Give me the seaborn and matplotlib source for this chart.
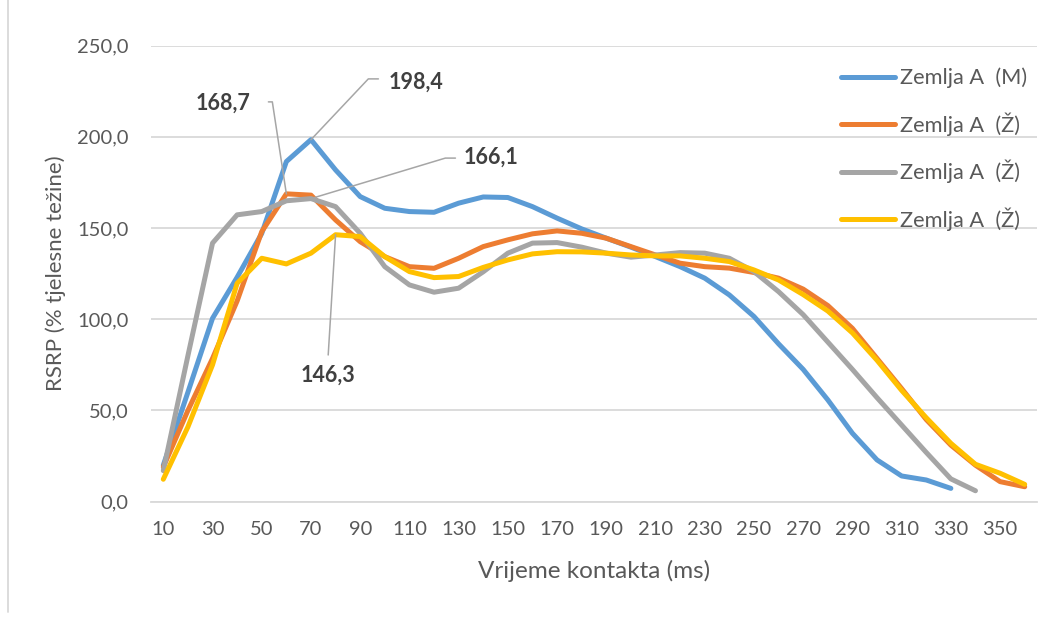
import numpy as np
import pandas as pd
import matplotlib
matplotlib.use("Agg")
import matplotlib.pyplot as plt
import seaborn as sns
from matplotlib.lines import Line2D

# ---------------- data ----------------
time_ms = list(range(10, 370, 10))  # 10 .. 360

blue_m = [20, 60, 100.5, 123, 147, 186.4, 198.4, 181.8, 167.2, 160.8, 159.0, 158.6,
          163.6, 167.0, 166.7, 161.7, 155.4, 149.5, 144.4, 139.5, 134.3, 128.8, 122.5,
          113.3, 101.5, 86.5, 72.5, 55.8, 37.5, 22.9, 14.1, 11.9, 7.3]
orange_z = [19, 50, 78.5, 110, 148, 168.7, 168.0, 154.4, 142.5, 134.3, 128.8, 127.9,
            133.4, 139.8, 143.5, 146.8, 148.4, 147.1, 144.4, 139.8, 135.2, 130.7, 128.8,
            128.0, 125.6, 122.5, 116.5, 107.5, 95.0, 78.5, 62.0, 45.0, 31.0, 20.0, 11.0, 8.2]
gray_z = [17, 80, 141.7, 157.2, 159.0, 164.9, 166.1, 161.7, 147.1, 128.8, 118.8, 114.8,
          117.0, 126.0, 136.2, 141.7, 142.0, 139.5, 136.2, 134.0, 135.2, 136.5, 136.2,
          133.4, 126.1, 115.1, 102.5, 87.5, 72.5, 57.0, 42.0, 27.0, 12.5, 6.0]
yellow_z = [12.3, 41, 75, 119.7, 133.4, 130.3, 136.2, 146.3, 145.3, 134.3, 126.1, 122.8,
            123.4, 128.4, 132.5, 135.8, 137.0, 136.9, 136.2, 135.2, 134.7, 134.7, 133.4,
            131.6, 127.0, 121.5, 113.5, 104.5, 92.5, 77.5, 61.0, 46.0, 32.0, 20.5, 15.6, 9.5]

series_labels = ["Zemlja A  (M)", "Zemlja A  (Ž)", "Zemlja A  (Ž)", "Zemlja A  (Ž)"]
series_values = [blue_m, orange_z, gray_z, yellow_z]
series_colors = ["#5B9BD5", "#ED7D31", "#A5A5A5", "#FFC000"]

y_ticks = [0, 50, 100, 150, 200, 250]
x_ticks = list(range(10, 360, 20))

# ---------------- style ----------------
sns.set_theme(style="white")
FONT = ["Lato", "DejaVu Sans"]
plt.rcParams["font.family"] = FONT
TICK_C = "#595959"
TXT_C = "#404040"

fig = plt.figure(figsize=(10.44, 6.19), dpi=100)
W, H = 1044, 619
left_px, right_px, top_px, bot_px = 151, 1037, 45.5, 501.7
ax = fig.add_axes([left_px / W, 1 - bot_px / H, (right_px - left_px) / W, (bot_px - top_px) / H])

for lab, vals, col in zip(series_labels, series_values, series_colors):
    df = pd.DataFrame({"t": time_ms[:len(vals)], "v": vals})
    sns.lineplot(data=df, x="t", y="v", ax=ax, color=col, linewidth=3.6,
                 label=lab, solid_capstyle="round", solid_joinstyle="round")

ax.set_xlim(5, 365)
ax.set_ylim(0, 250)
ax.set_yticks(y_ticks)
ax.set_yticklabels([f"{v:.1f}".replace(".", ",") for v in y_ticks])
ax.set_xticks(x_ticks)
ax.set_xticklabels([str(v) for v in x_ticks])
ax.tick_params(axis="both", length=0, labelsize=14.5, labelcolor=TICK_C)
ax.tick_params(axis="y", pad=16)
ax.tick_params(axis="x", pad=14)
ax.grid(axis="y", color="#D9D9D9", linewidth=1.3)
ax.grid(axis="x", visible=False)
ax.set_axisbelow(True)
for s in ["left", "right", "top"]:
    ax.spines[s].set_visible(False)
ax.spines["bottom"].set_color("#D9D9D9")
ax.spines["bottom"].set_linewidth(1.3)

ax.set_xlabel("Vrijeme kontakta (ms)", fontsize=17.5, color=TICK_C, labelpad=16)
ax.set_ylabel("RSRP (% tjelesne težine)", fontsize=16, color=TICK_C, labelpad=8)

# ---------------- data labels with leader lines ----------------
lead_c = "#A6A6A6"
def leader(px, py, pts, text, tx, ty, ha):
    xs = [px] + [p[0] for p in pts]
    ys = [py] + [p[1] for p in pts]
    ax.plot(xs, ys, color=lead_c, linewidth=1.1, zorder=5)
    ax.text(tx, ty, text, ha=ha, va="center", fontsize=15.5, fontweight="bold",
            color=TXT_C, zorder=6)

i = blue_m.index(max(blue_m))
leader(time_ms[i], blue_m[i], [(93.3, 231.7), (97.4, 231.7)], "198,4", 101.5, 230, "left")
i = orange_z.index(168.7)
leader(time_ms[i], orange_z[i], [(54.3, 219.1), (52.7, 219.1)], "168,7", 45.4, 218.6, "right")
i = gray_z.index(166.1)
leader(time_ms[i], gray_z[i], [(124.6, 188.3), (128.7, 188.3)], "166,1", 132, 188.9, "left")
i = yellow_z.index(146.3)
leader(time_ms[i], yellow_z[i], [(77, 80.4)], "146,3", 77, 69.4, "center")

# ---------------- legend ----------------
handles, labels = ax.get_legend_handles_labels()
leg = ax.legend(handles, labels, loc="upper left", bbox_to_anchor=(830 / W, 1 - 57 / H),
                bbox_transform=fig.transFigure, frameon=False, fontsize=15.7,
                handlelength=2.5, handletextpad=0.2, labelspacing=1.1, borderpad=0)
for t in leg.get_texts():
    t.set_color(TICK_C)
for h in leg.legend_handles:
    h.set_linewidth(3.6)

# left border of chart area
fig.add_artist(Line2D([7.5 / W, 7.5 / W], [1 - 612 / H, 1.0], color="#D9D9D9",
                      linewidth=1.3, transform=fig.transFigure))

fig.savefig("out.png", dpi=100)
